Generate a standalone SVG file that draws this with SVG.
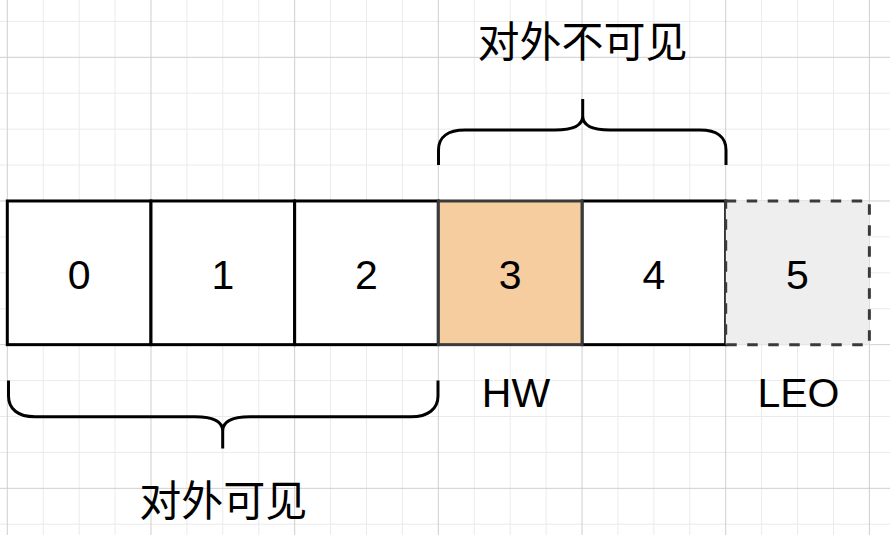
<svg xmlns="http://www.w3.org/2000/svg" width="890" height="535" viewBox="0 0 890 535">
<style>
.minor{stroke:#ebebeb;stroke-width:1;fill:none}
.major{stroke:#cfcfcf;stroke-width:1;fill:none}
.cell{stroke:#000;stroke-width:3;fill:#fff}
.num{font-family:"Liberation Sans",Arial,sans-serif;font-size:41px;fill:#000;text-anchor:middle}
.cjk{font-family:"Liberation Sans","Noto Sans CJK SC",sans-serif;font-size:42px;fill:#000;text-anchor:middle}
.brace{stroke:#000;stroke-width:3;fill:none;stroke-linecap:butt}
</style>
<rect x="0" y="0" width="890" height="535" fill="#fff"/>
<g id="grid">
<path class="minor" d="M43.22,0V535M79.14,0V535M115.06,0V535M186.9,0V535M222.82,0V535M258.74,0V535M330.58,0V535M366.5,0V535M402.42,0V535M474.26,0V535M510.18,0V535M546.1,0V535M617.94,0V535M653.86,0V535M689.78,0V535M761.62,0V535M797.54,0V535M833.46,0V535M0,21.38H890M0,93.22H890M0,129.14H890M0,165.06H890M0,236.9H890M0,272.82H890M0,308.74H890M0,380.58H890M0,416.5H890M0,452.42H890M0,524.26H890"/>
<path class="major" d="M7.3,0V535M150.98,0V535M294.66,0V535M438.34,0V535M582.02,0V535M725.7,0V535M869.38,0V535M0,57.3H890M0,200.98H890M0,344.66H890M0,488.34H890"/>
</g>
<g id="cell0"><rect class="cell" x="7.3" y="200.98" width="143.68" height="143.68"/><text class="num" x="79.1" y="289">0</text></g>
<g id="cell1"><rect class="cell" x="150.98" y="200.98" width="143.68" height="143.68"/><text class="num" x="222.8" y="289">1</text></g>
<g id="cell2"><rect class="cell" x="294.66" y="200.98" width="143.68" height="143.68"/><text class="num" x="366.5" y="289">2</text></g>
<g id="cell4"><rect class="cell" x="582.02" y="200.98" width="143.68" height="143.68"/><text class="num" x="653.9" y="289">4</text></g>
<g id="cell3"><rect class="cell" x="438.34" y="200.98" width="143.68" height="143.68" style="fill:#f6cd9f;stroke:#3a3a3a"/><text class="num" x="510.2" y="289">3</text></g>
<g id="cell5"><rect x="725.7" y="200.98" width="143.68" height="143.68" fill="#eeeeee" stroke="#3a3a3a" stroke-width="3" stroke-dasharray="10.5 10.5"/><text class="num" x="797.5" y="289">5</text></g>
<g id="label-hw"><text class="num" x="516" y="407">HW</text></g>
<g id="label-leo"><text class="num" x="798.5" y="407">LEO</text></g>
<g id="brace-top"><path class="brace" d="M438.5,165V150C438.5,137 448,130 465,130H555C572,130 582.7,126 582.7,116V99M582.7,116C582.7,126 593,130 610,130H700C717,130 726,137 726,150V165"/><text class="cjk" x="582.5" y="57">对外不可见</text></g>
<g id="brace-bottom"><path class="brace" d="M8.5,380.5V396C8.5,409 18,416.8 35,416.8H195C212,416.8 222.7,421 222.7,431V448.5M222.7,431C222.7,421 233,416.8 250,416.8H411C428,416.8 438,409 438,396V380.5"/><text class="cjk" x="223.3" y="516">对外可见</text></g>
<g id="connectors"/>
</svg>
